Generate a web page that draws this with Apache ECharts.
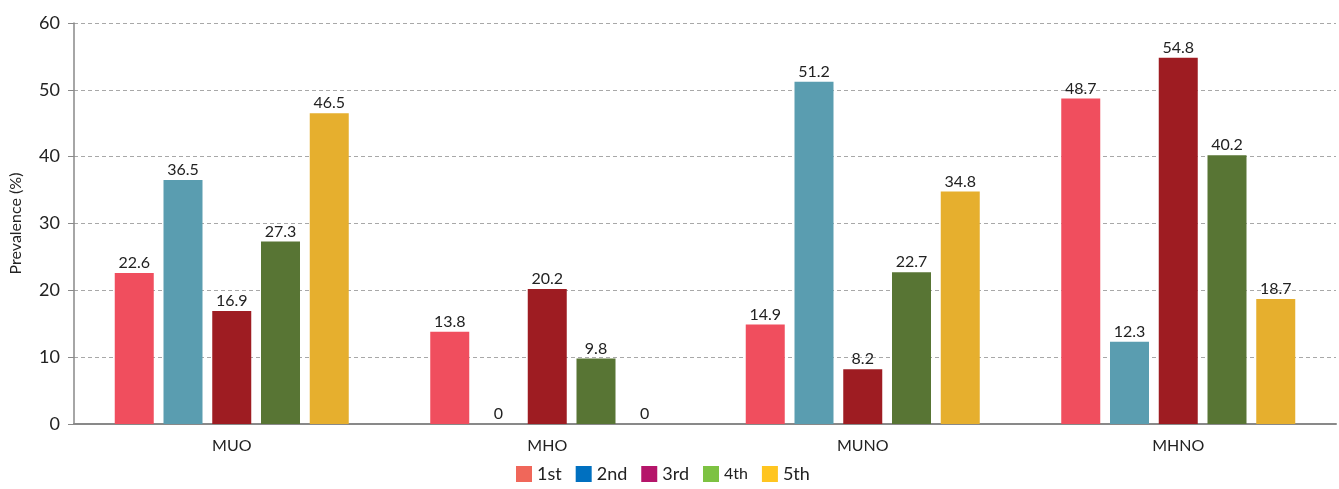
<!DOCTYPE html>
<html><head><meta charset="utf-8">
<script src="https://cdn.jsdelivr.net/npm/echarts@6/dist/echarts.min.js"></script>
<style>html,body{margin:0;padding:0;background:#fff}#c{width:1339px;height:489px}</style>
</head><body><div id="c"></div>
<script>
const categories = ['MUO', 'MHO', 'MUNO', 'MHNO'];
const seriesNames = ['1st', '2nd', '3rd', '4th', '5th'];
const s1st = [22.6, 13.8, 14.9, 48.7];
const s2nd = [36.5, 0, 51.2, 12.3];
const s3rd = [16.9, 20.2, 8.2, 54.8];
const s4th = [27.3, 9.8, 22.7, 40.2];
const s5th = [46.5, 0, 34.8, 18.7];
const yTicks = [0, 10, 20, 30, 40, 50, 60];

const values = [s1st, s2nd, s3rd, s4th, s5th];
const barColors = ['#F04E5E', '#5A9DB0', '#9E1C22', '#587534', '#E6AF2E'];
const legendColors = ['#F0675A', '#0070C0', '#B5156A', '#7DC242', '#FFC520'];
const font = 'Lato, "Open Sans", sans-serif';

const chart = echarts.init(document.getElementById('c'));
chart.setOption({
  animation: false,
  textStyle: { fontFamily: font },
  grid: { left: 74, right: 3, top: 23, bottom: 65, containLabel: false, outerBoundsMode: 'none' },
  legend: {
    bottom: 1, left: 511,
    itemWidth: 16, itemHeight: 16, itemGap: 14, icon: 'rect',
    textStyle: { fontSize: 18, color: '#222', fontFamily: font },
    data: seriesNames.map((n, i) => ({
      name: n, itemStyle: { color: legendColors[i] },
      textStyle: n === '4th' ? { fontSize: 16 } : undefined
    }))
  },
  xAxis: {
    type: 'category', data: categories,
    axisLine: { lineStyle: { color: '#898989', width: 2 } },
    axisTick: { show: false },
    axisLabel: { fontSize: 16, color: '#222', margin: 14 }
  },
  yAxis: {
    type: 'value', min: yTicks[0], max: yTicks[yTicks.length - 1], interval: 10,
    name: 'Prevalence (%)', nameLocation: 'middle', nameGap: 50, nameRotate: 90,
    nameTextStyle: { fontSize: 16, color: '#222' },
    axisLine: { show: true, lineStyle: { color: '#898989', width: 1.5 } },
    axisTick: { show: true, length: 6, lineStyle: { color: '#898989' } },
    axisLabel: { fontSize: 18, color: '#222', margin: 14 },
    splitLine: { lineStyle: { type: [4, 3], color: '#A8A8A8' } }
  },
  series: seriesNames.map((n, i) => ({
    name: n, type: 'bar', data: values[i],
    barWidth: 39, barGap: '25%',
    itemStyle: { color: barColors[i] },
    label: { show: true, position: 'top', distance: 2, fontSize: 16, color: '#222' }
  }))
});
</script></body></html>
